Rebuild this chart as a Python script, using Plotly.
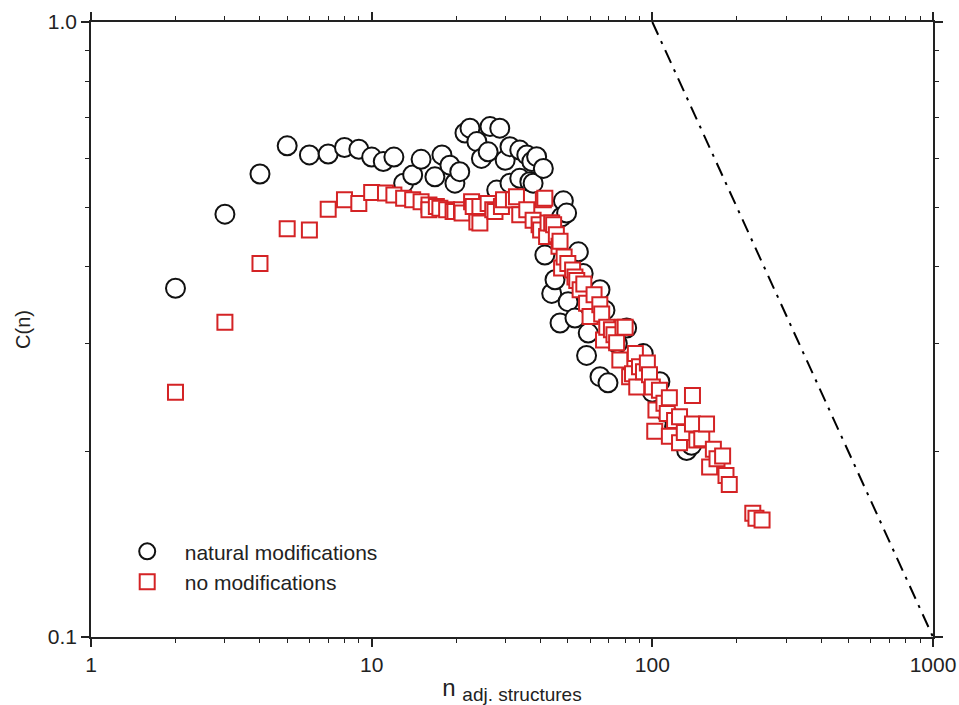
import plotly.graph_objects as go

# natural modifications (black circles)
nat_n = [2, 3, 4, 5, 6, 7, 8, 9, 10, 11, 12, 13, 14, 15,
         16.8, 17.8, 19, 19.8, 20.6, 21.5, 22.4, 23.7, 24.6, 26, 26.4, 27.9, 28.6,
         29.9, 31.1, 31.1, 33.7, 33.7, 35.7, 36.6, 37.2, 37.6, 38.7, 40.9,
         41.4, 43.8, 45, 46.9, 47.5, 48.2, 49.5, 50.1, 53, 54.5, 56.7, 58.3, 59.1,
         65.1, 65.1, 67.8, 69.5, 75, 81, 85, 92.8, 100, 106.4, 112, 120, 132.5, 138]
nat_c = [0.369, 0.487, 0.566, 0.629, 0.608, 0.610, 0.625, 0.621, 0.603, 0.593, 0.603, 0.547, 0.564, 0.598,
         0.560, 0.608, 0.585, 0.547, 0.571, 0.660, 0.672, 0.639, 0.600, 0.615, 0.676, 0.533, 0.672,
         0.596, 0.627, 0.547, 0.619, 0.557, 0.608, 0.550, 0.593, 0.547, 0.604, 0.578,
         0.418, 0.362, 0.381, 0.324, 0.482, 0.512, 0.489, 0.351, 0.330, 0.423, 0.390, 0.287, 0.312,
         0.367, 0.265, 0.340, 0.259, 0.300, 0.318, 0.275, 0.289, 0.250, 0.260, 0.232, 0.220, 0.201, 0.205]

# no modifications (red squares)
no_n = [2, 3, 4, 5, 6, 7, 8, 9, 10, 11.2, 12, 13, 14, 15, 16, 16, 17, 17.5, 18.5, 19.5, 19.8,
        20.9, 21, 22.7, 23, 23.7, 24.3, 24.3, 26, 27, 27.5, 29, 29.5, 32, 32.8, 33.7, 35.7,
        37.6, 39.5, 40, 40.9, 41.4, 42, 42.5, 43.8, 44.5, 45.5, 46.5, 46.9, 47.5, 48.5,
        50, 52, 53, 53.8, 55.3, 57, 58.3, 60, 62, 65, 66, 67, 68.8, 71.5, 73, 74.6,
        76.6, 78.6, 80, 83, 85, 87, 88, 90, 93, 96, 97.7, 100, 102, 103, 106, 110,
        113, 115, 115, 120, 125, 125, 130, 139, 139, 144, 150, 156, 160, 165, 170,
        178, 183, 188, 228, 234, 246]
no_c = [0.250, 0.325, 0.405, 0.461, 0.459, 0.496, 0.514, 0.507, 0.528, 0.527, 0.523, 0.517, 0.514, 0.510, 0.504, 0.495, 0.501, 0.498, 0.495, 0.492, 0.492,
        0.495, 0.489, 0.510, 0.501, 0.473, 0.501, 0.471, 0.507, 0.495, 0.492, 0.501, 0.514, 0.514, 0.520, 0.486, 0.495,
        0.476, 0.468, 0.459, 0.514, 0.517, 0.448, 0.471, 0.471, 0.468, 0.451, 0.432, 0.440, 0.398, 0.415,
        0.405, 0.395, 0.385, 0.380, 0.367, 0.375, 0.349, 0.332, 0.360, 0.347, 0.335, 0.304, 0.319, 0.316, 0.310, 0.301,
        0.282, 0.319, 0.319, 0.265, 0.268, 0.289, 0.255, 0.275, 0.270, 0.279, 0.267, 0.255, 0.216, 0.234, 0.252, 0.240,
        0.231, 0.245, 0.212, 0.225, 0.228, 0.207, 0.215, 0.247, 0.222, 0.209, 0.210, 0.222, 0.189, 0.202, 0.195,
        0.197, 0.183, 0.177, 0.159, 0.156, 0.155]

# reference slope line
ref_n = [100, 1000]
ref_c = [1.0, 0.1]

x_ticks = [1, 10, 100, 1000]
x_ticktext = ["1", "10", "100", "1000"]
y_ticks = [0.1, 1.0]
y_ticktext = ["0.1", "1.0"]
x_minor = [2, 3, 4, 5, 6, 7, 8, 9, 20, 30, 40, 50, 60, 70, 80, 90, 200, 300, 400, 500, 600, 700, 800, 900]
y_minor = [0.2, 0.3, 0.4, 0.5, 0.6, 0.7, 0.8, 0.9]

FONT = "Liberation Sans, Arial, Helvetica, sans-serif"
RED = "#d42325"
PAD = "\u00a0" * 3

fig = go.Figure()
fig.add_trace(go.Scatter(
    x=nat_n, y=nat_c, mode="markers", name=PAD + "natural modifications",
    marker=dict(symbol="circle", size=19, color="white", line=dict(color="#111111", width=2)),
))
fig.add_trace(go.Scatter(
    x=no_n, y=no_c, mode="markers", name=PAD + "no modifications",
    marker=dict(symbol="square", size=15, color="white", line=dict(color=RED, width=2)),
))
fig.add_trace(go.Scatter(
    x=ref_n, y=ref_c, mode="lines", showlegend=False,
    line=dict(color="black", width=2, dash="14px,7px,3px,7px"),
))

axis_common = dict(
    type="log", showgrid=False, zeroline=False, showline=True, linecolor="#222222", linewidth=1.5,
    ticks="outside", ticklen=8, tickwidth=1.5, tickcolor="#222222", mirror="allticks",
    tickfont=dict(size=21, color="#222222", family=FONT), automargin=False,
)

fig.update_xaxes(
    **axis_common, range=[0, 3], tickvals=x_ticks, ticktext=x_ticktext,
    minor=dict(tickvals=x_minor, ticks="outside", ticklen=4, tickwidth=1.2, tickcolor="#222222", showgrid=False),
    title=dict(text="n <sub><span style='font-size:19px'>adj. structures</span></sub>",
               font=dict(size=24, color="#222222", family=FONT), standoff=4),
)
fig.update_yaxes(
    **axis_common, range=[-1, 0], tickvals=y_ticks, ticktext=y_ticktext,
    minor=dict(tickvals=y_minor, ticks="outside", ticklen=4, tickwidth=1.2, tickcolor="#222222", showgrid=False),
    title=dict(text="C(n)", font=dict(size=20, color="#222222", family=FONT), standoff=12),
)

fig.update_layout(
    width=959, height=705,
    margin=dict(l=91, r=26, t=22, b=68, autoexpand=False),
    plot_bgcolor="white", paper_bgcolor="white",
    font=dict(family=FONT, color="#222222"),
    legend=dict(x=0.043, y=0.172, xanchor="left", yanchor="top", bgcolor="rgba(0,0,0,0)",
                font=dict(size=21, color="#222222", family=FONT), tracegroupgap=0, itemsizing="trace"),
)

fig.write_html("out.html")
